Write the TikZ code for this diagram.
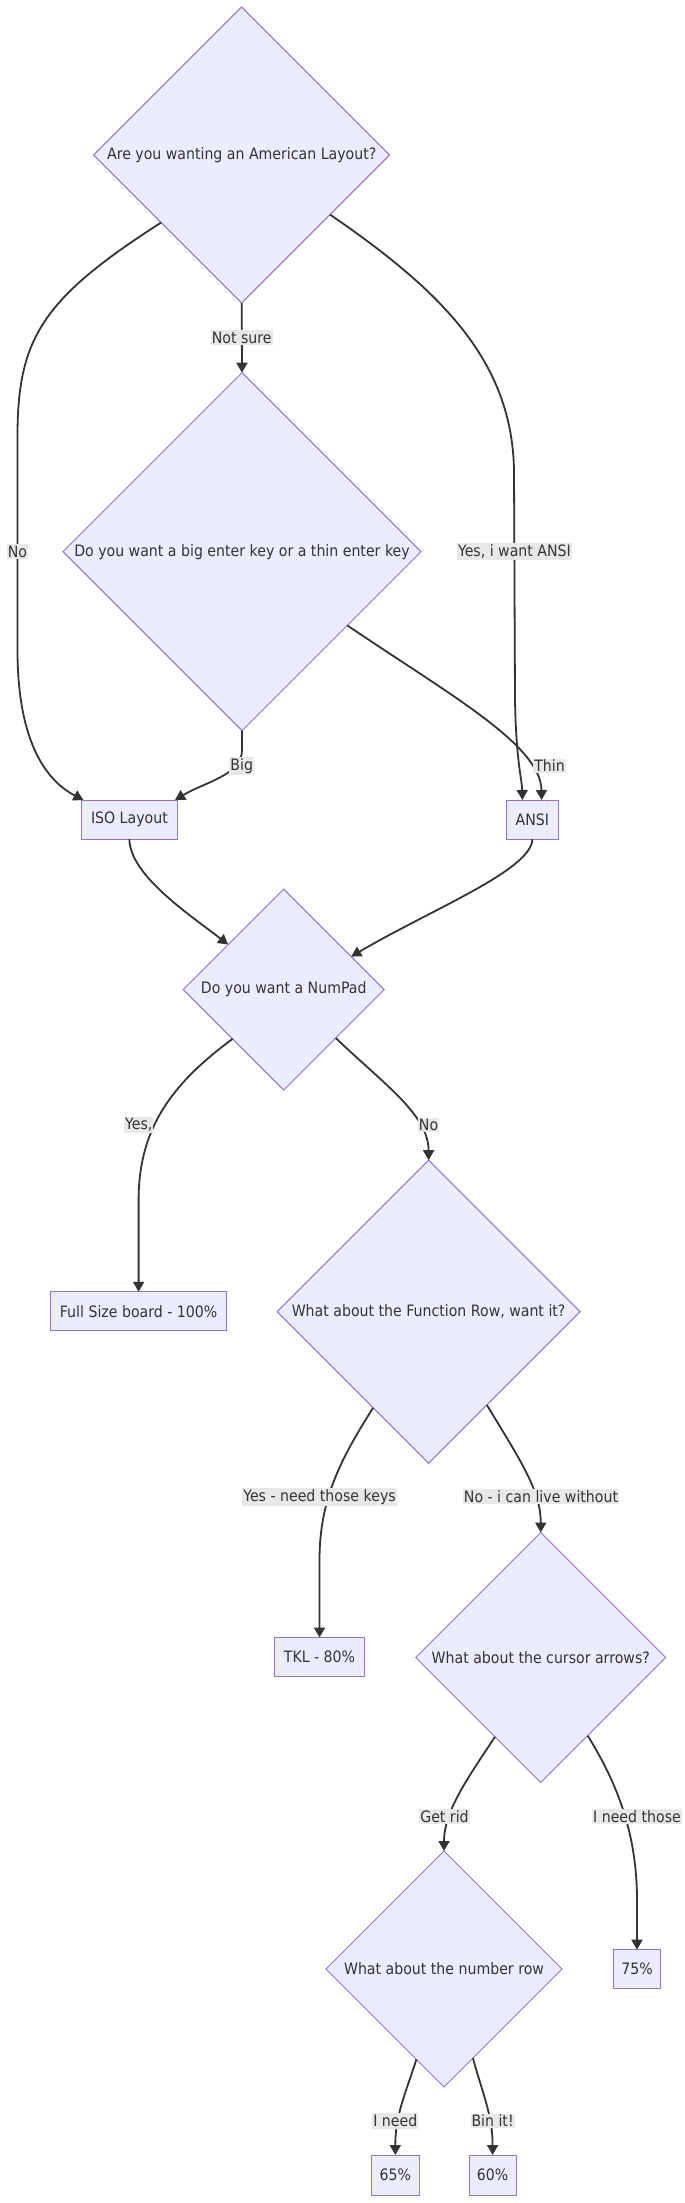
\documentclass[tikz,border=0pt]{standalone}
\usepackage{fontspec}
\setmainfont{DejaVu Sans}[FakeStretch=0.9]
\usetikzlibrary{shapes.geometric,arrows.meta,calc}
\definecolor{nodefill}{HTML}{ECECFF}
\definecolor{nodeline}{HTML}{9370DB}
\definecolor{txtcol}{HTML}{333333}
\definecolor{linkcol}{HTML}{333333}
\definecolor{lblbg}{HTML}{E8E8E8}
\newcommand\chartfont{\fontsize{15.7}{18}\selectfont}
\begin{document}
\begin{tikzpicture}[x=1pt,y=-1pt,
  dec/.style={diamond, draw=nodeline, fill=nodefill, line width=1pt, inner sep=0pt, outer sep=0pt, text=txtcol, font=\chartfont},
  box/.style={rectangle, draw=nodeline, fill=nodefill, line width=1pt, inner sep=0pt, outer sep=0pt, text=txtcol, font=\chartfont, minimum height=39pt},
  lbl/.style={fill=lblbg, text=txtcol, font=\chartfont, inner xsep=1pt, inner ysep=1.5pt},
  link/.style={draw=linkcol, line width=1.8pt, -{Triangle[length=10pt,width=11pt]}}]
\useasboundingbox (0,0) rectangle (685,2203);

% nodes
\node[dec, minimum width=296pt, minimum height=296pt] (A) at (241.7,155) {Are you wanting an American Layout?};
\node[dec, minimum width=358pt, minimum height=358pt] (B) at (242,551.7) {Do you want a big enter key or a thin enter key};
\node[box, minimum width=96pt] (ISO) at (129.4,819.5) {ISO Layout};
\node[box, minimum width=51.6pt] (ANSI) at (532.4,819.5) {ANSI};
\node[dec, minimum width=201pt, minimum height=201pt] (C) at (283.7,989.5) {Do you want a NumPad};
\node[box, minimum width=176.4pt] (Full) at (138.6,1311.3) {Full Size board - 100\%};
\node[dec, minimum width=303pt, minimum height=303pt] (D) at (428.6,1311.7) {What about the Function Row, want it?};
\node[box, minimum width=89.6pt] (TKL) at (319.5,1657) {TKL - 80\%};
\node[dec, minimum width=250pt, minimum height=250pt] (E) at (540.75,1657.5) {What about the cursor arrows?};
\node[dec, minimum width=236pt, minimum height=236pt] (F) at (444,1969) {What about the number row};
\node[box, minimum width=47.8pt] (P75) at (637,1969.2) {75\%};
\node[box, minimum width=47.5pt, minimum height=40pt] (P65) at (395.3,2175) {65\%};
\node[box, minimum width=47pt, minimum height=40pt] (P60) at (492.6,2175) {60\%};

% connectors
\draw[link] (A.south) -- (B.north);
\draw[link] (A.-140) .. controls (40,300) and (17,340) .. (17.5,440) -- (17.5,650) .. controls (17.5,740) and (45,780) .. ($(ISO.north west)+(2,0)$);
\draw[link] (A.-34) .. controls (440,290) and (512,360) .. (514,470) -- (515,700) .. controls (516,760) and (522,780) .. ($(ANSI.north west)+(15.8,0)$);
\draw[link] (B.south) -- (242,750) .. controls (242,775) and (205,782) .. ($(ISO.north east)+(-2.4,0)$);
\draw[link] (B.-35) .. controls (450,695) and (541,745) .. ($(ANSI.north west)+(35,0)$);
\draw[link] (ISO.south) .. controls (129.5,875) and (190,915) .. (C.141);
\draw[link] (ANSI.south) .. controls (532,870) and (430,910) .. (C.26);
\draw[link] (C.-136) .. controls (170,1085) and (138.6,1130) .. (138.6,1200) -- (Full.north);
\draw[link] (C.-43) .. controls (385,1085) and (428.6,1115) .. (D.north);
\draw[link] (D.-120) .. controls (340,1460) and (319.5,1500) .. (319.5,1560) -- (TKL.north);
\draw[link] (D.-58) .. controls (520,1460) and (540.75,1490) .. (E.north);
\draw[link] (E.-120) .. controls (470,1775) and (444,1810) .. (F.north);
\draw[link] (E.-59) .. controls (615,1780) and (637,1830) .. (637,1900) -- (P75.north);
\draw[link] (F.-107) .. controls (405,2095) and (395.3,2115) .. (P65.north);
\draw[link] (F.-72) .. controls (483,2095) and (492.6,2115) .. (P60.north);

% edge labels
\node[lbl] (lNS) at (241.7,337.5) {Not sure};
\node[lbl] (lNo1) at (17.5,551.7) {No};
\node[lbl] (lYA) at (514.4,551.7) {Yes, i want ANSI};
\node[lbl] (lBig) at (241.7,766) {Big};
\node[lbl] (lThin) at (549.5,766) {Thin};
\node[lbl] (lYes) at (138.7,1125) {Yes,};
\node[lbl] (lNo2) at (428.6,1125) {No};
\node[lbl] (lYK) at (319.5,1496.7) {Yes - need those keys};
\node[lbl] (lNL) at (541,1496.7) {No - i can live without};
\node[lbl] (lGR) at (444.5,1816.7) {Get rid};
\node[lbl] (lIT) at (637,1816.7) {I need those};
\node[lbl] (lIN) at (395.3,2121) {I need};
\node[lbl] (lBI) at (492.6,2121) {Bin it!};
\end{tikzpicture}
\end{document}
